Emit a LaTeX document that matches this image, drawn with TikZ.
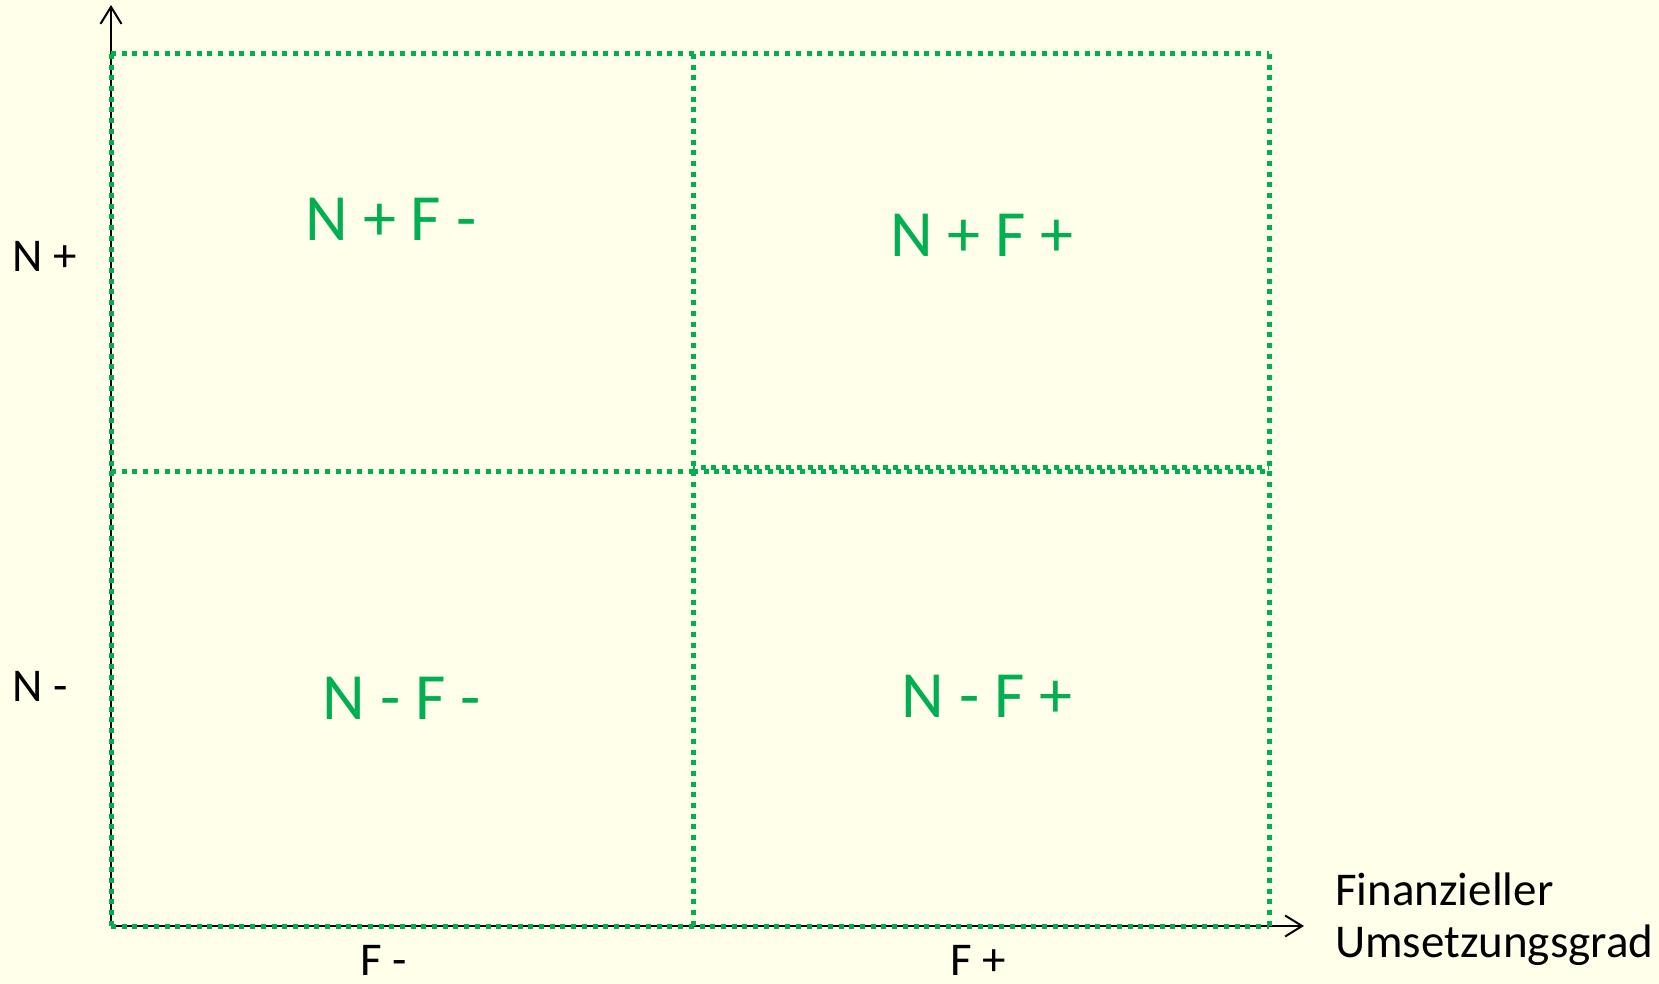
\documentclass[tikz,border=0pt]{standalone}
\usepackage{fontspec}
\setmainfont{Carlito}
\usetikzlibrary{arrows.meta}
\definecolor{bgc}{RGB}{255,255,234}
\definecolor{grn}{RGB}{0,176,80}
\begin{document}
\begin{tikzpicture}[x=1pt,y=-1pt,
  axis/.style={line width=2pt,black,-{Straight Barb[length=17pt,width=21pt,line width=2pt]}},
  grid/.style={line width=5pt,grn,dash pattern=on 5pt off 5.7pt},
  quad/.style={text=grn,font=\fontsize{66}{78}\selectfont,anchor=base,inner sep=0pt},
  lab/.style={text=black,font=\fontsize{47}{52}\selectfont,anchor=base west,inner sep=0pt}]
\fill[bgc] (0,0) rectangle (1659,984);
\useasboundingbox (0,0) rectangle (1659,984);
% grid corners
\coordinate (o) at (111,926);
\coordinate (tl) at (111,54);
\coordinate (tm) at (693,54);
\coordinate (tr) at (1269,54);
\coordinate (ml) at (111,471);
\coordinate (mm) at (693,471);
\coordinate (mr) at (1269,471);
\coordinate (bm) at (693,926);
\coordinate (br) at (1269,926);
\coordinate (ytip) at (111,5);
\coordinate (xtip) at (1304,926);
% axes
\draw[axis] (o) -- (ytip);
\draw[axis] (o) -- (xtip);
% grid
\draw[grid] (tl) -- (tr);
\draw[grid] (tl) -- (o);
\draw[grid] (tm) -- (bm);
\draw[grid] (tr) -- (br);
\draw[grid] (o) -- (br);
\draw[grid] (ml) -- (mm);
\draw[grid] (mm) -- (mr);
\draw[grid,dash phase=3pt] ([yshift=4pt]mm) -- ([yshift=4pt]mr);
% quadrant labels
\node[quad] (q1) at (391,241) {N + F -};
\node[quad] (q2) at (982,257) {N + F +};
\node[quad] (q3) at (402,719) {N - F -};
\node[quad] (q4) at (987,717) {N - F +};
% axis labels
\node[lab] (np) at (12,272) {N +};
\node[lab] (nm) at (12,701) {N -};
\node[lab] (fm) at (360,975) {F -};
\node[lab] (fp) at (950,975) {F +};
\node[lab] (x1) at (1335,905) {Finanzieller};
\node[lab] (x2) at (1335,957) {Umsetzungsgrad};
\end{tikzpicture}
\end{document}
